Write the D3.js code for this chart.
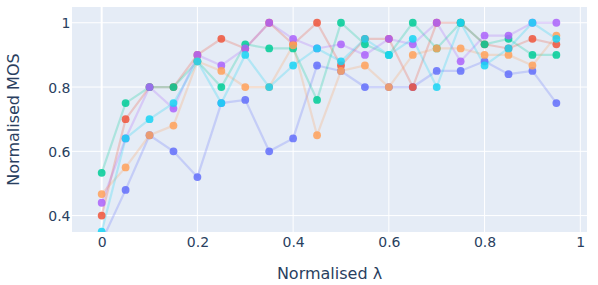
<!DOCTYPE html>
<html><head><meta charset="utf-8">
<script src="https://cdn.jsdelivr.net/npm/d3@7"></script>
<style>body{margin:0;background:#fff}svg{display:block}</style>
</head><body><svg id="c" width="598" height="285"></svg>
<script>
const lambdas = [0,0.05,0.1,0.15,0.2,0.25,0.3,0.35,0.4,0.45,0.5,0.55,0.6,0.65,0.7,0.75,0.8,0.85,0.9,0.95];
const seriesBlue   = [0.32,0.48,0.65,0.60,0.52,0.75,0.76,0.60,0.64,0.867,0.85,0.80,0.80,0.80,0.85,0.85,0.88,0.84,0.85,0.75];
const seriesRed    = [0.40,0.70,0.80,0.80,0.90,0.95,0.92,1.00,0.933,1.00,0.867,0.95,0.95,0.80,1.00,1.00,0.933,0.92,0.95,0.933];
const seriesGreen  = [0.533,0.75,0.80,0.80,0.88,0.80,0.933,0.92,0.92,0.76,1.00,0.933,0.90,1.00,0.92,1.00,0.933,0.95,0.90,0.90];
const seriesPurple = [0.44,0.64,0.80,0.733,0.90,0.867,0.92,1.00,0.95,0.92,0.933,0.90,0.95,0.933,1.00,0.88,0.96,0.96,1.00,1.00];
const seriesOrange = [0.467,0.55,0.65,0.68,0.88,0.85,0.80,0.80,0.93,0.65,0.85,0.867,0.80,0.90,0.92,0.92,0.90,0.90,0.867,0.96];
const seriesCyan   = [0.35,0.64,0.70,0.75,0.88,0.75,0.90,0.80,0.867,0.92,0.88,0.95,0.90,0.95,0.80,1.00,0.867,0.92,1.00,0.95];
const xTicks = [0,0.2,0.4,0.6,0.8,1];
const yTicks = [0.4,0.6,0.8,1];
const xTitle = "Normalised λ";
const yTitle = "Normalised MOS";

const series = [
  {values: seriesBlue,   color:"#636efa"},
  {values: seriesRed,    color:"#EF553B"},
  {values: seriesGreen,  color:"#00cc96"},
  {values: seriesPurple, color:"#ab63fa"},
  {values: seriesOrange, color:"#FFA15A"},
  {values: seriesCyan,   color:"#19d3f3"}
];

const svg = d3.select("#c");
const L=72, R=587, T=7, B=232;
const x = d3.scaleLinear().domain([-0.062,1.014]).range([L,R]);
const y = d3.scaleLinear().domain([0.349,1.049]).range([B,T]);
const font = '"DejaVu Sans", Verdana, sans-serif';
const txt = "#2a3f5f";

svg.append("rect").attr("x",L).attr("y",T).attr("width",R-L).attr("height",B-T).attr("fill","#E5ECF6");
svg.append("defs").append("clipPath").attr("id","clip").append("rect")
  .attr("x",L).attr("y",T).attr("width",R-L).attr("height",B-T);

const g = svg.append("g");
g.selectAll(".gx").data(xTicks).join("line")
  .attr("x1",d=>x(d)).attr("x2",d=>x(d)).attr("y1",T).attr("y2",B)
  .attr("stroke","#fff").attr("stroke-width",d=>d===0?2:1);
g.selectAll(".gy").data(yTicks).join("line")
  .attr("y1",d=>y(d)).attr("y2",d=>y(d)).attr("x1",L).attr("x2",R)
  .attr("stroke","#fff").attr("stroke-width",1);

const xAxis = d3.axisBottom(x).tickValues(xTicks).tickSize(0).tickPadding(0).tickFormat(d=>d3.format("~g")(d));
const ax = svg.append("g").attr("transform",`translate(0,${B})`).call(xAxis);
ax.select(".domain").remove();
ax.selectAll("text").attr("dy",null).attr("y",15).attr("font-family",font).attr("font-size",14).attr("fill",txt);

const yAxis = d3.axisLeft(y).tickValues(yTicks).tickSize(0).tickPadding(0).tickFormat(d=>d3.format("~g")(d));
const ay = svg.append("g").attr("transform",`translate(${L-1.5},0)`).call(yAxis);
ay.select(".domain").remove();
ay.selectAll("text").attr("dy","0.36em").attr("font-family",font).attr("font-size",14).attr("fill",txt);

svg.append("text").attr("x",(L+R)/2).attr("y",279).attr("text-anchor","middle")
  .attr("font-family",font).attr("font-size",16).attr("fill",txt).text(xTitle);
svg.append("text").attr("transform",`translate(19,${(T+B)/2}) rotate(-90)`).attr("text-anchor","middle")
  .attr("font-family",font).attr("font-size",16).attr("fill",txt).text(yTitle);

const plot = svg.append("g").attr("clip-path","url(#clip)");
const line = d3.line().x((d,i)=>x(lambdas[i])).y(d=>y(d));
series.forEach(s=>{
  plot.append("path").attr("d",line(s.values)).attr("fill","none")
    .attr("stroke",s.color).attr("stroke-opacity",0.25).attr("stroke-width",2.2);
});
series.forEach(s=>{
  plot.append("g").selectAll("circle").data(s.values).join("circle")
    .attr("cx",(d,i)=>x(lambdas[i])).attr("cy",d=>y(d)).attr("r",3.9)
    .attr("fill",s.color).attr("fill-opacity",0.85);
});
</script></body></html>
